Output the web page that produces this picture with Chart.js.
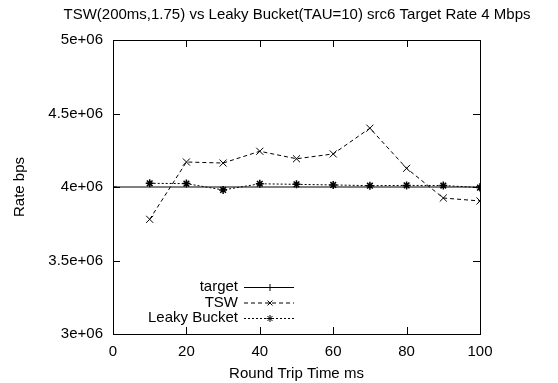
<!DOCTYPE html>
<html>
<head>
<meta charset="UTF-8">
<title>TSW vs Leaky Bucket</title>
<script src="https://cdn.jsdelivr.net/npm/chart.js"></script>
<style>
  html, body { margin: 0; padding: 0; background: #fff; }
  #wrap { width: 558px; height: 383px; }
</style>
</head>
<body>
<div id="wrap"><canvas id="rateChart" width="558" height="383"></canvas></div>
<script>
// round trip times (ms) and measured rates (bps)
const rtt = [10, 20, 30, 40, 50, 60, 70, 80, 90, 100];
const tswRate = [3.78e6, 4.17e6, 4.163e6, 4.243e6, 4.192e6, 4.225e6, 4.4e6, 4.127e6, 3.925e6, 3.905e6];
const leakyRate = [4.025e6, 4.023e6, 3.98e6, 4.022e6, 4.018e6, 4.014e6, 4.009e6, 4.011e6, 4.01e6, 3.996e6];
const targetX = [0, 100];
const targetRate = [4e6, 4e6];

const xTicks = [0, 20, 40, 60, 80, 100];
const yTicks = [3e6, 3.5e6, 4e6, 4.5e6, 5e6];
const yTickLabels = ['3e+06', '3.5e+06', '4e+06', '4.5e+06', '5e+06'];

const FONT = '15px "Liberation Sans", Arial, sans-serif';

function pts(xs, ys) {
  return xs.map((x, i) => ({ x: x, y: ys[i] }));
}

// gnuplot look: boxed frame, inward ticks on all four sides, inset legend
const gnuplotFrame = {
  id: 'gnuplotFrame',
  afterDraw(chart) {
    const ctx = chart.ctx;
    const xs = chart.scales.x, ys = chart.scales.y;
    const a = chart.chartArea;
    const L = 7;
    ctx.save();
    ctx.strokeStyle = '#000';
    ctx.lineWidth = 1;
    ctx.strokeRect(Math.round(a.left) + 0.5, Math.round(a.top) + 0.5,
      Math.round(a.right - a.left), Math.round(a.bottom - a.top));
    ctx.beginPath();
    xTicks.forEach(v => {
      const px = Math.round(xs.getPixelForValue(v)) + 0.5;
      ctx.moveTo(px, a.bottom); ctx.lineTo(px, a.bottom - L);
      ctx.moveTo(px, a.top); ctx.lineTo(px, a.top + L);
    });
    yTicks.forEach(v => {
      const py = Math.round(ys.getPixelForValue(v)) + 0.5;
      ctx.moveTo(a.left, py); ctx.lineTo(a.left + L, py);
      ctx.moveTo(a.right, py); ctx.lineTo(a.right - L, py);
    });
    ctx.stroke();

    ctx.fillStyle = '#000';
    ctx.font = FONT;
    ctx.textBaseline = 'middle';
    // tick labels
    ctx.textAlign = 'right';
    yTicks.forEach((v, i) => {
      ctx.fillText(yTickLabels[i], a.left - 10, ys.getPixelForValue(v));
    });
    ctx.textAlign = 'center';
    xTicks.forEach(v => {
      ctx.fillText(String(v), xs.getPixelForValue(v), a.bottom + 18);
    });
    // titles
    ctx.fillText('TSW(200ms,1.75) vs Leaky Bucket(TAU=10) src6 Target Rate 4 Mbps', 297, 15);
    ctx.fillText('Round Trip Time ms', (a.left + a.right) / 2, 374);
    ctx.save();
    ctx.translate(20, 187);
    ctx.rotate(-Math.PI / 2);
    ctx.fillText('Rate bps', 0, 0);
    ctx.restore();

    // legend
    const entries = chart.data.datasets;
    const textRight = 238, s0 = 244, s1 = 294;
    entries.forEach((ds, i) => {
      const y = 287 + i * 15.5;
      ctx.textAlign = 'right';
      ctx.fillText(ds.label, textRight, y);
      ctx.beginPath();
      ctx.setLineDash(ds.borderDash || []);
      ctx.moveTo(s0, y + 0.5); ctx.lineTo(s1, y + 0.5);
      ctx.stroke();
      ctx.setLineDash([]);
      Chart.helpers.drawPoint(ctx, {
        pointStyle: ds.pointStyle, radius: 3.5, borderWidth: 1
      }, 270, y + 0.5);
    });
    ctx.restore();
  }
};

new Chart(document.getElementById('rateChart'), {
  type: 'line',
  data: {
    datasets: [
      {
        label: 'target',
        data: pts(targetX, targetRate),
        borderColor: '#000', backgroundColor: '#000',
        borderWidth: 1, pointStyle: 'cross', pointRadius: 4, pointBorderWidth: 1
      },
      {
        label: 'TSW',
        data: pts(rtt, tswRate),
        borderColor: '#000', backgroundColor: '#000',
        borderWidth: 1, borderDash: [4, 3],
        pointStyle: 'crossRot', pointRadius: 5, pointBorderWidth: 1
      },
      {
        label: 'Leaky Bucket',
        data: pts(rtt, leakyRate),
        borderColor: '#000', backgroundColor: '#000',
        borderWidth: 1, borderDash: [2, 2],
        pointStyle: 'star', pointRadius: 4, pointBorderWidth: 1.5
      }
    ]
  },
  options: {
    responsive: false,
    animation: false,
    layout: { padding: { top: 40, right: 78, bottom: 0, left: 0 } },
    plugins: { legend: { display: false }, tooltip: { enabled: false } },
    elements: { line: { tension: 0 } },
    scales: {
      x: {
        type: 'linear', min: 0, max: 100,
        grid: { display: false }, border: { display: false },
        ticks: { display: false },
        afterFit(s) { s.height = 49; }
      },
      y: {
        type: 'linear', min: 3e6, max: 5e6,
        grid: { display: false }, border: { display: false },
        ticks: { display: false },
        afterFit(s) { s.width = 113; }
      }
    }
  },
  plugins: [gnuplotFrame]
});
</script>
</body>
</html>
